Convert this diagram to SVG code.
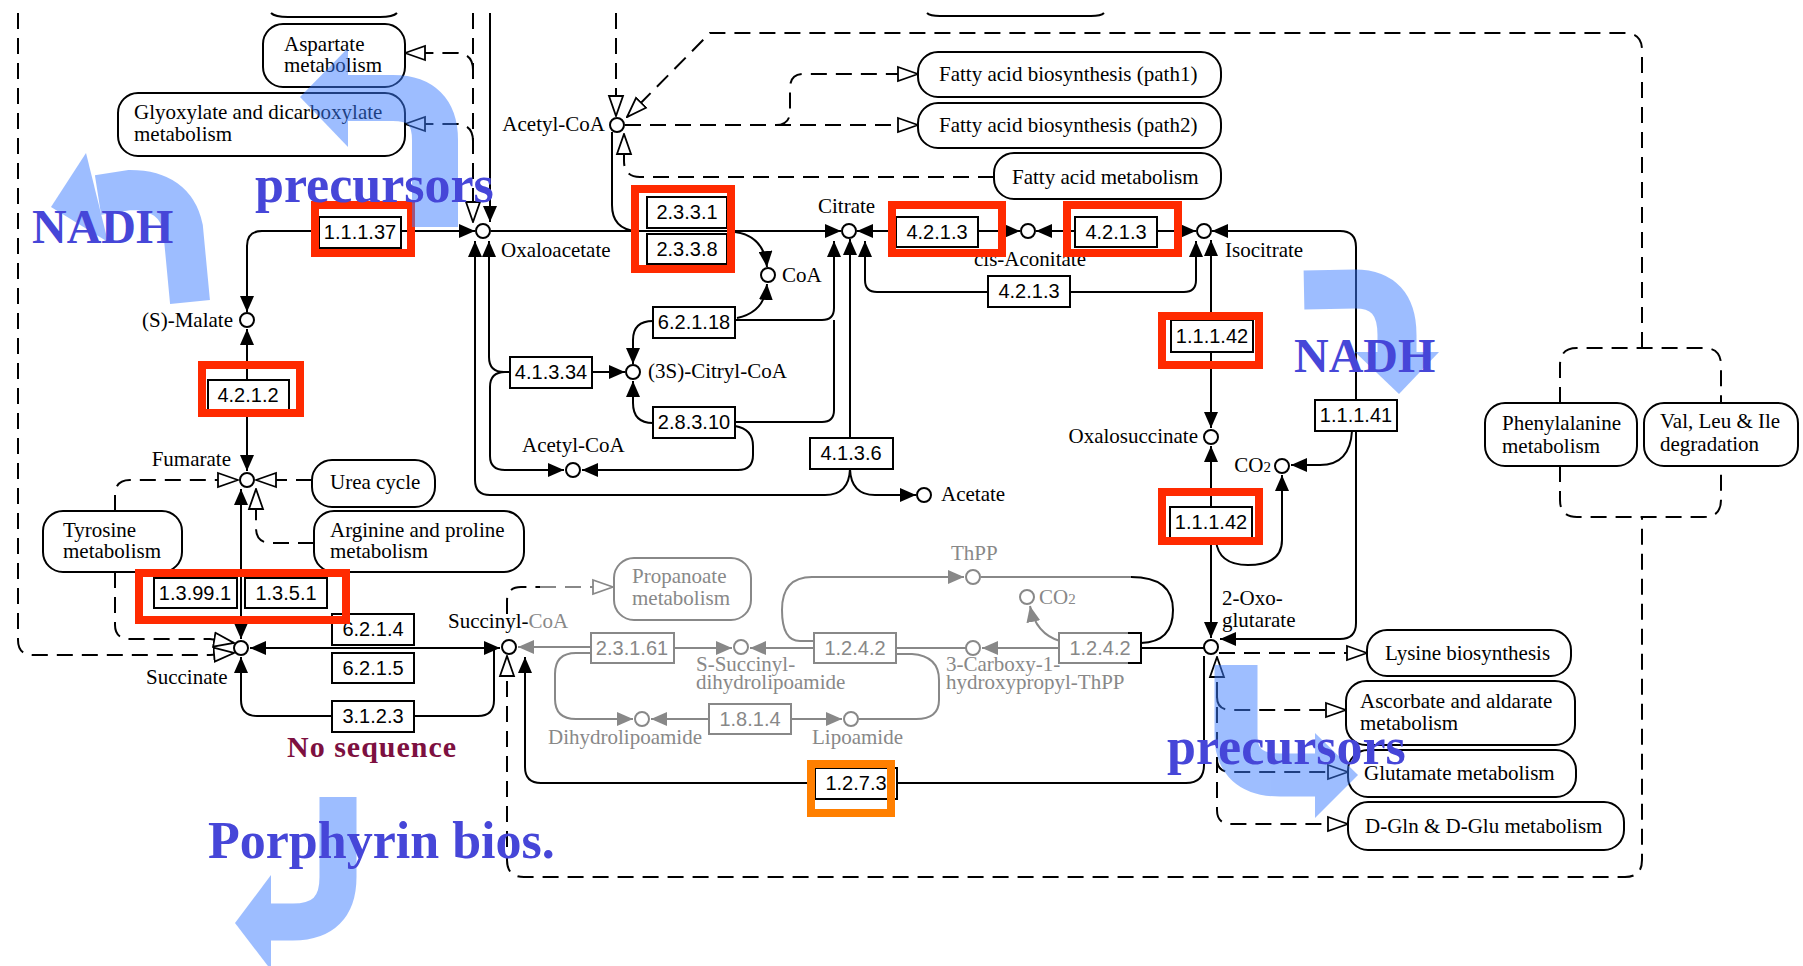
<svg xmlns="http://www.w3.org/2000/svg" width="1803" height="966" viewBox="0 0 1803 966">
<style>
.ln{fill:none;stroke:#000;stroke-width:2}
.gl{fill:none;stroke:#888;stroke-width:2}
.dl{fill:none;stroke:#000;stroke-width:2;stroke-dasharray:16 9}
.gdl{fill:none;stroke:#888;stroke-width:2;stroke-dasharray:16 9}
.ec rect{fill:#fff;stroke:#000;stroke-width:2}
.ec text{font-family:"Liberation Sans",Arial,sans-serif;font-size:20px;text-anchor:middle;fill:#000}
.ecg rect{fill:#fff;stroke:#888;stroke-width:2}
.ecg text{font-family:"Liberation Sans",Arial,sans-serif;font-size:20px;text-anchor:middle;fill:#888}
.map rect{fill:#fff;stroke:#000;stroke-width:2}
.mapg rect{fill:#fff;stroke:#888;stroke-width:2}
.lbl{font-family:"Liberation Serif","Times New Roman",serif;font-size:21px;fill:#000}
.glbl{font-family:"Liberation Serif","Times New Roman",serif;font-size:21px;fill:#888}
.cpd{fill:#fff;stroke:#000;stroke-width:2}
.cpdg{fill:#fff;stroke:#888;stroke-width:2}
.hl{fill:none;stroke:#ff2a00;stroke-width:8}
.hlo{fill:none;stroke:#ff7f00;stroke-width:8}
.big{font-family:"Liberation Serif","Times New Roman",serif;font-weight:bold;fill:#4646d8}
</style>
<defs>
<marker id="fa" viewBox="0 0 16 14" refX="16" refY="7" markerWidth="16" markerHeight="14" markerUnits="userSpaceOnUse" orient="auto-start-reverse"><path d="M0,0 L16,7 L0,14 z" fill="#000"/></marker>
<marker id="ga" viewBox="0 0 16 14" refX="16" refY="7" markerWidth="16" markerHeight="14" markerUnits="userSpaceOnUse" orient="auto-start-reverse"><path d="M0,0 L16,7 L0,14 z" fill="#888"/></marker>
<marker id="oa" viewBox="0 0 22 18" refX="21" refY="9" markerWidth="22" markerHeight="18" markerUnits="userSpaceOnUse" orient="auto-start-reverse"><path d="M1,2 L21,9 L1,16 z" fill="#fff" stroke="#000" stroke-width="1.8"/></marker>
<marker id="goa" viewBox="0 0 22 18" refX="21" refY="9" markerWidth="22" markerHeight="18" markerUnits="userSpaceOnUse" orient="auto-start-reverse"><path d="M1,2 L21,9 L1,16 z" fill="#fff" stroke="#888" stroke-width="1.8"/></marker>
</defs>
<rect width="1803" height="966" fill="#fff"/>

<!-- connectors -->
<g id="connectors">
<path class="ln" d="M490,13 V222" marker-end="url(#fa)"/>
<path class="dl" d="M473,13 V222" marker-end="url(#oa)"/>
<path class="dl" d="M473,70 Q473,53 456,53 L405,53" marker-end="url(#oa)"/>
<path class="dl" d="M473,141 Q473,124 456,124 L405,124" marker-end="url(#oa)"/>
<path class="ln" d="M475,231 L262,231 Q247,231 247,246 L247,312" marker-start="url(#fa)" marker-end="url(#fa)"/>
<path class="ln" d="M491,231 H841" marker-end="url(#fa)"/>
<path class="ln" d="M612,132 V205 Q612,229 636,231"/>
<path class="ln" d="M735,232 Q764,236 767,267" marker-end="url(#fa)"/>
<path class="ln" d="M737,318 Q765,312 767,284" marker-end="url(#fa)"/>
<path class="ln" d="M653,321 Q633,321 633,340 V364" marker-end="url(#fa)"/>
<path class="ln" d="M735,320 H822 Q834,320 834,308 V241" marker-end="url(#fa)"/>
<path class="ln" d="M653,423 Q633,423 633,403 V381" marker-end="url(#fa)"/>
<path class="ln" d="M735,422 H822 Q834,422 834,410 V320"/>
<path class="ln" d="M735,426 Q753,429 753,446 V455 Q753,470 738,470 H582" marker-end="url(#fa)"/>
<path class="ln" d="M592,372 H625" marker-end="url(#fa)"/>
<path class="ln" d="M489,241 V357 Q489,372 504,372 H510" marker-start="url(#fa)"/>
<path class="ln" d="M510,372 H505 Q490,372 490,387 V456 Q490,470 505,470 H564" marker-end="url(#fa)"/>
<path class="ln" d="M850,239 V438" marker-start="url(#fa)"/>
<path class="ln" d="M850,469 Q849,495 825,495 H490 Q475,495 475,480 V241" marker-end="url(#fa)"/>
<path class="ln" d="M850,469 Q851,495 875,495 H916" marker-end="url(#fa)"/>
<path class="ln" d="M857,231 H1020" marker-start="url(#fa)" marker-end="url(#fa)"/>
<path class="ln" d="M1036,231 H1196" marker-start="url(#fa)" marker-end="url(#fa)"/>
<path class="ln" d="M1212,231 H1340 Q1356,231 1356,247 V623 Q1356,639 1340,639 H1220" marker-start="url(#fa)" marker-end="url(#fa)"/>
<path class="ln" d="M1352,431 Q1350,465 1320,465 H1291" marker-end="url(#fa)"/>
<path class="ln" d="M865,241 V280 Q865,292 877,292 H1184 Q1196,292 1196,280 V241" marker-start="url(#fa)" marker-end="url(#fa)"/>
<path class="ln" d="M1211,240 V428" marker-start="url(#fa)" marker-end="url(#fa)"/>
<path class="ln" d="M1211,446 V638" marker-start="url(#fa)" marker-end="url(#fa)"/>
<path class="ln" d="M1216,540 Q1218,565 1248,565 Q1282,565 1282,540 V475" marker-end="url(#fa)"/>
<path class="ln" d="M1204,656 V765 Q1204,783 1186,783 H541 Q525,783 525,767 V657" marker-end="url(#fa)"/>
<path class="ln" d="M1204,648 H1141"/>
<path class="ln" d="M250,648 H500" marker-start="url(#fa)" marker-end="url(#fa)"/>
<path class="ln" d="M494,648 V700 Q494,716 478,716 H257 Q241,716 241,700 V657" marker-end="url(#fa)"/>
<path class="ln" d="M241,639 V489" marker-start="url(#fa)" marker-end="url(#fa)"/>
<path class="ln" d="M247,329 V471" marker-start="url(#fa)" marker-end="url(#fa)"/>
<path class="ln" d="M1131,577 Q1173,577 1173,610 Q1173,642 1141,643"/>
<path class="dl" d="M616,13 V116" marker-end="url(#oa)"/>
<path class="dl" d="M507,656 V860 Q507,877 524,877 H1625 Q1642,877 1642,860 V517" marker-start="url(#oa)"/>
<path class="dl" d="M1560,466 V500 Q1560,517 1577,517 H1704 Q1721,517 1721,500 V466"/>
<path class="dl" d="M1560,403 V365 Q1560,348 1577,348 H1704 Q1721,348 1721,365 V403"/>
<path class="dl" d="M1642,348 V50 Q1642,33 1625,33 H710 L627,117" marker-end="url(#oa)"/>
<path class="dl" d="M625,125 H918" marker-end="url(#oa)"/>
<path class="dl" d="M776,125 Q790,125 790,111 V88 Q790,74 804,74 H918" marker-end="url(#oa)"/>
<path class="dl" d="M994,177 H640 Q624,177 624,161 V134" marker-end="url(#oa)"/>
<path class="dl" d="M1219,653 H1367" marker-end="url(#oa)"/>
<path class="dl" d="M1217,657 V810 Q1217,824 1231,824 H1348" marker-start="url(#oa)" marker-end="url(#oa)"/>
<path class="dl" d="M1217,697 Q1217,710 1231,710 H1346" marker-end="url(#oa)"/>
<path class="dl" d="M1217,759 Q1217,772 1231,772 H1348" marker-end="url(#oa)"/>
<path class="dl" d="M115,511 V495 Q115,480 130,480 H238" marker-end="url(#oa)"/>
<path class="dl" d="M312,480 H256" marker-end="url(#oa)"/>
<path class="dl" d="M314,543 H271 Q256,543 256,528 V489" marker-end="url(#oa)"/>
<path class="dl" d="M115,572 V625 Q115,639 130,639 H210 L234,643" marker-end="url(#oa)"/>
<path class="dl" d="M18,13 V640 Q18,655 33,655 H210 L234,653" marker-end="url(#oa)"/>
<path class="dl" d="M507,614 V601 Q507,587 521,587 H540"/>
<path class="gdl" d="M540,587 H613" marker-end="url(#goa)"/>
<path class="gl" d="M518,647 H591" marker-start="url(#ga)"/>
<path class="gl" d="M674,648 H732" marker-end="url(#ga)"/>
<path class="gl" d="M814,648 H750" marker-end="url(#ga)"/>
<path class="gl" d="M1059,648 H982" marker-end="url(#ga)"/>
<path class="gl" d="M966,648 H896"/>
<path class="gl" d="M896,654 H912 Q939,656 939,680 V700 Q939,719 916,719 H859"/>
<path class="gl" d="M591,653 H576 Q555,653 555,674 V699 Q555,719 576,719 H633" marker-end="url(#ga)"/>
<path class="gl" d="M709,719 H651" marker-end="url(#ga)"/>
<path class="gl" d="M791,719 H842" marker-end="url(#ga)"/>
<path class="gl" d="M814,641 H800 Q782,641 782,610 Q782,577 812,577 H964" marker-end="url(#ga)"/>
<path class="gl" d="M981,577 H1131"/>
<path class="gl" d="M1060,641 Q1036,634 1030,606" marker-end="url(#ga)"/>
</g>

<!-- pathway map nodes -->
<g id="map-top-a"><path class="ln" d="M271,13 Q275,17 288,17 L380,17 Q393,17 397,13"/></g>
<g id="map-top-b"><path class="ln" d="M927,13 Q930,16 940,16 L1091,16 Q1101,16 1104,13"/></g>
<g id="map-aspartate" class="map"><rect x="263" y="24" width="142" height="63" rx="20"/><text class="lbl" x="284" y="51">Aspartate</text><text class="lbl" x="284" y="72">metabolism</text></g>
<g id="map-glyoxylate" class="map"><rect x="118" y="93" width="287" height="63" rx="20"/><text class="lbl" x="134" y="119">Glyoxylate and dicarboxylate</text><text class="lbl" x="134" y="141">metabolism</text></g>
<g id="map-fab1" class="map"><rect x="918" y="52" width="303" height="45" rx="20"/><text class="lbl" x="939" y="81">Fatty acid biosynthesis (path1)</text></g>
<g id="map-fab2" class="map"><rect x="918" y="103" width="303" height="45" rx="20"/><text class="lbl" x="939" y="132">Fatty acid biosynthesis (path2)</text></g>
<g id="map-fam" class="map"><rect x="994" y="153" width="227" height="46" rx="20"/><text class="lbl" x="1012" y="184">Fatty acid metabolism</text></g>
<g id="map-urea" class="map"><rect x="312" y="460" width="123" height="47" rx="20"/><text class="lbl" x="330" y="489">Urea cycle</text></g>
<g id="map-arginine" class="map"><rect x="314" y="511" width="210" height="61" rx="20"/><text class="lbl" x="330" y="537">Arginine and proline</text><text class="lbl" x="330" y="558">metabolism</text></g>
<g id="map-tyrosine" class="map"><rect x="43" y="511" width="139" height="61" rx="20"/><text class="lbl" x="63" y="537">Tyrosine</text><text class="lbl" x="63" y="558">metabolism</text></g>
<g id="map-propanoate" class="mapg"><rect x="614" y="558" width="137" height="62" rx="20"/><text class="glbl" x="632" y="583">Propanoate</text><text class="glbl" x="632" y="605">metabolism</text></g>
<g id="map-phe" class="map"><rect x="1485" y="403" width="152" height="63" rx="20"/><text class="lbl" x="1502" y="430">Phenylalanine</text><text class="lbl" x="1502" y="453">metabolism</text></g>
<g id="map-val" class="map"><rect x="1644" y="403" width="154" height="63" rx="20"/><text class="lbl" x="1660" y="428">Val, Leu &amp; Ile</text><text class="lbl" x="1660" y="451">degradation</text></g>
<g id="map-lysine" class="map"><rect x="1367" y="630" width="204" height="46" rx="20"/><text class="lbl" x="1385" y="660">Lysine biosynthesis</text></g>
<g id="map-ascorbate" class="map"><rect x="1346" y="681" width="229" height="64" rx="20"/><text class="lbl" x="1360" y="708">Ascorbate and aldarate</text><text class="lbl" x="1360" y="730">metabolism</text></g>
<g id="map-glutamate" class="map"><rect x="1348" y="750" width="228" height="47" rx="20"/><text class="lbl" x="1364" y="780">Glutamate metabolism</text></g>
<g id="map-dgln" class="map"><rect x="1348" y="802" width="276" height="48" rx="20"/><text class="lbl" x="1365" y="833">D-Gln &amp; D-Glu metabolism</text></g>

<!-- enzymes -->
<g id="ec-1-1-1-37" class="ec"><rect x="319" y="217" width="82" height="31"/><text x="360" y="239">1.1.1.37</text></g>
<g id="ec-2-3-3-1" class="ec"><rect x="647" y="197" width="80" height="31"/><text x="687" y="219">2.3.3.1</text></g>
<g id="ec-2-3-3-8" class="ec"><rect x="647" y="234" width="80" height="30"/><text x="687" y="256">2.3.3.8</text></g>
<g id="ec-4-2-1-3-a" class="ec"><rect x="896" y="217" width="82" height="30"/><text x="937" y="239">4.2.1.3</text></g>
<g id="ec-4-2-1-3-b" class="ec"><rect x="1075" y="217" width="82" height="30"/><text x="1116" y="239">4.2.1.3</text></g>
<g id="ec-4-2-1-3-c" class="ec"><rect x="988" y="276" width="82" height="31"/><text x="1029" y="298">4.2.1.3</text></g>
<g id="ec-6-2-1-18" class="ec"><rect x="653" y="307" width="82" height="31"/><text x="694" y="329">6.2.1.18</text></g>
<g id="ec-4-1-3-34" class="ec"><rect x="510" y="357" width="82" height="31"/><text x="551" y="379">4.1.3.34</text></g>
<g id="ec-2-8-3-10" class="ec"><rect x="653" y="407" width="82" height="31"/><text x="694" y="429">2.8.3.10</text></g>
<g id="ec-4-1-3-6" class="ec"><rect x="810" y="438" width="83" height="31"/><text x="851" y="460">4.1.3.6</text></g>
<g id="ec-1-1-1-42-a" class="ec"><rect x="1171" y="320" width="82" height="32"/><text x="1212" y="343">1.1.1.42</text></g>
<g id="ec-1-1-1-41" class="ec"><rect x="1315" y="400" width="82" height="31"/><text x="1356" y="422">1.1.1.41</text></g>
<g id="ec-1-1-1-42-b" class="ec"><rect x="1170" y="507" width="82" height="31"/><text x="1211" y="529">1.1.1.42</text></g>
<g id="ec-4-2-1-2" class="ec"><rect x="208" y="380" width="81" height="30"/><text x="248" y="402">4.2.1.2</text></g>
<g id="ec-1-3-99-1" class="ec"><rect x="154" y="578" width="83" height="30"/><text x="195" y="600">1.3.99.1</text></g>
<g id="ec-1-3-5-1" class="ec"><rect x="245" y="578" width="82" height="30"/><text x="286" y="600">1.3.5.1</text></g>
<g id="ec-6-2-1-4" class="ec"><rect x="332" y="614" width="82" height="31"/><text x="373" y="636">6.2.1.4</text></g>
<g id="ec-6-2-1-5" class="ec"><rect x="332" y="653" width="82" height="30"/><text x="373" y="675">6.2.1.5</text></g>
<g id="ec-3-1-2-3" class="ec"><rect x="332" y="701" width="82" height="31"/><text x="373" y="723">3.1.2.3</text></g>
<g id="ec-1-2-7-3" class="ec"><rect x="815" y="768" width="82" height="31"/><text x="856" y="790">1.2.7.3</text></g>
<g id="ec-2-3-1-61" class="ecg"><rect x="591" y="633" width="83" height="30"/><text x="632" y="655">2.3.1.61</text></g>
<g id="ec-1-2-4-2-a" class="ecg"><rect x="814" y="633" width="82" height="30"/><text x="855" y="655">1.2.4.2</text></g>
<g id="ec-1-2-4-2-b" class="ecg"><rect x="1059" y="633" width="82" height="30"/><text x="1100" y="655">1.2.4.2</text><path class="ln" d="M1128,633 H1141 V663 H1128"/></g>
<g id="ec-1-8-1-4" class="ecg"><rect x="709" y="704" width="82" height="30"/><text x="750" y="726">1.8.1.4</text></g>

<!-- compounds -->
<g id="cpd-oxaloacetate"><circle class="cpd" cx="483" cy="231" r="7"/><text class="lbl" x="501" y="257">Oxaloacetate</text></g>
<g id="cpd-acetylcoa-a"><circle class="cpd" cx="617" cy="125" r="7"/><text class="lbl" x="605" y="131" text-anchor="end">Acetyl-CoA</text></g>
<g id="cpd-citrate"><circle class="cpd" cx="849" cy="231" r="7"/><text class="lbl" x="818" y="213">Citrate</text></g>
<g id="cpd-cisaconitate"><circle class="cpd" cx="1028" cy="231" r="7"/><text class="lbl" x="1030" y="266" text-anchor="middle">cis-Aconitate</text></g>
<g id="cpd-isocitrate"><circle class="cpd" cx="1204" cy="231" r="7"/><text class="lbl" x="1225" y="257">Isocitrate</text></g>
<g id="cpd-coa"><circle class="cpd" cx="768" cy="275" r="7"/><text class="lbl" x="782" y="282">CoA</text></g>
<g id="cpd-citrylcoa"><circle class="cpd" cx="633" cy="372" r="7"/><text class="lbl" x="648" y="378">(3S)-Citryl-CoA</text></g>
<g id="cpd-acetylcoa-b"><circle class="cpd" cx="573" cy="470" r="7"/><text class="lbl" x="522" y="452">Acetyl-CoA</text></g>
<g id="cpd-acetate"><circle class="cpd" cx="924" cy="495" r="7"/><text class="lbl" x="941" y="501">Acetate</text></g>
<g id="cpd-malate"><circle class="cpd" cx="247" cy="320" r="7"/><text class="lbl" x="233" y="327" text-anchor="end">(S)-Malate</text></g>
<g id="cpd-fumarate"><circle class="cpd" cx="247" cy="480" r="7"/><text class="lbl" x="231" y="466" text-anchor="end">Fumarate</text></g>
<g id="cpd-succinate"><circle class="cpd" cx="241" cy="648" r="7"/><text class="lbl" x="146" y="684">Succinate</text></g>
<g id="cpd-succinylcoa"><circle class="cpd" cx="509" cy="647" r="7"/><text class="lbl" x="448" y="628">Succinyl-<tspan fill="#888">CoA</tspan></text></g>
<g id="cpd-oxalosuccinate"><circle class="cpd" cx="1211" cy="437" r="7"/><text class="lbl" x="1198" y="443" text-anchor="end">Oxalosuccinate</text></g>
<g id="cpd-co2"><circle class="cpd" cx="1282" cy="466" r="7"/><text class="lbl" x="1271" y="472" text-anchor="end">CO<tspan font-size="15">2</tspan></text></g>
<g id="cpd-oxoglutarate"><circle class="cpd" cx="1211" cy="647" r="7"/><text class="lbl" x="1222" y="605">2-Oxo-</text><text class="lbl" x="1222" y="627">glutarate</text></g>
<g id="cpd-ssuccinyl"><circle class="cpdg" cx="741" cy="647" r="7"/><text class="glbl" x="696" y="671">S-Succinyl-</text><text class="glbl" x="696" y="689">dihydrolipoamide</text></g>
<g id="cpd-dihydrolipoamide"><circle class="cpdg" cx="642" cy="719" r="7"/><text class="glbl" x="548" y="744">Dihydrolipoamide</text></g>
<g id="cpd-lipoamide"><circle class="cpdg" cx="851" cy="719" r="7"/><text class="glbl" x="812" y="744">Lipoamide</text></g>
<g id="cpd-thpp"><circle class="cpdg" cx="973" cy="577" r="7"/><text class="glbl" x="951" y="560">ThPP</text></g>
<g id="cpd-carboxy"><circle class="cpdg" cx="973" cy="648" r="7"/><text class="glbl" x="946" y="671">3-Carboxy-1-</text><text class="glbl" x="946" y="689">hydroxypropyl-ThPP</text></g>
<g id="cpd-co2-b"><circle class="cpdg" cx="1027" cy="597" r="7"/><text class="glbl" x="1039" y="604">CO<tspan font-size="15">2</tspan></text></g>

<!-- highlight frames -->
<g id="highlights">
<rect class="hl" x="315" y="205" width="96" height="48"/>
<rect class="hl" x="635" y="189" width="96" height="80"/>
<rect class="hl" x="892" y="205" width="110" height="48"/>
<rect class="hl" x="1067" y="205" width="111" height="48"/>
<rect class="hl" x="1162" y="316" width="97" height="49"/>
<rect class="hl" x="1162" y="492" width="97" height="49"/>
<rect class="hl" x="202" y="365" width="98" height="48"/>
<rect class="hl" x="139" y="573" width="207" height="47"/>
<rect class="hlo" x="811" y="764" width="80" height="49"/>
</g>

<text id="note-noseq" x="287" y="757" font-family="'Liberation Serif','Times New Roman',serif" font-weight="bold" font-size="30" letter-spacing="1" fill="#7d1040">No sequence</text>

<!-- flux arrows -->
<g id="flux-arrows" opacity="0.5">
<g fill="none" stroke="#3d7dff">
<path d="M435,227 L435,140 Q435,98 393,98 L346,98" stroke-width="46"/>
<path d="M190,302 L183,228 Q175,190 130,190 L98,195" stroke-width="40"/>
<path d="M1304,290 L1355,289 Q1397,289 1397,335 L1397,354" stroke-width="39"/>
<path d="M1236,665 L1236,735 Q1236,775 1280,775 L1317,775" stroke-width="43"/>
<path d="M338,797 L338,877 Q338,922 293,922 L269,922" stroke-width="37"/>
</g>
<g fill="#3d7dff">
<polygon points="348,48 300,97 348,147"/>
<polygon points="86,153 51,207 108,242"/>
<polygon points="1355,352 1439,352 1399,394"/>
<polygon points="1315,733 1358,775 1315,818"/>
<polygon points="271,875 235,923 271,970"/>
</g>
</g>

<g id="flux-labels">
<text class="big" x="255" y="202" font-size="52">precursors</text>
<text class="big" x="32" y="243" font-size="48">NADH</text>
<text class="big" x="1294" y="372" font-size="48">NADH</text>
<text class="big" x="1167" y="764" font-size="52">precursors</text>
<text class="big" x="208" y="858" font-size="52">Porphyrin bios.</text>
</g>
</svg>
